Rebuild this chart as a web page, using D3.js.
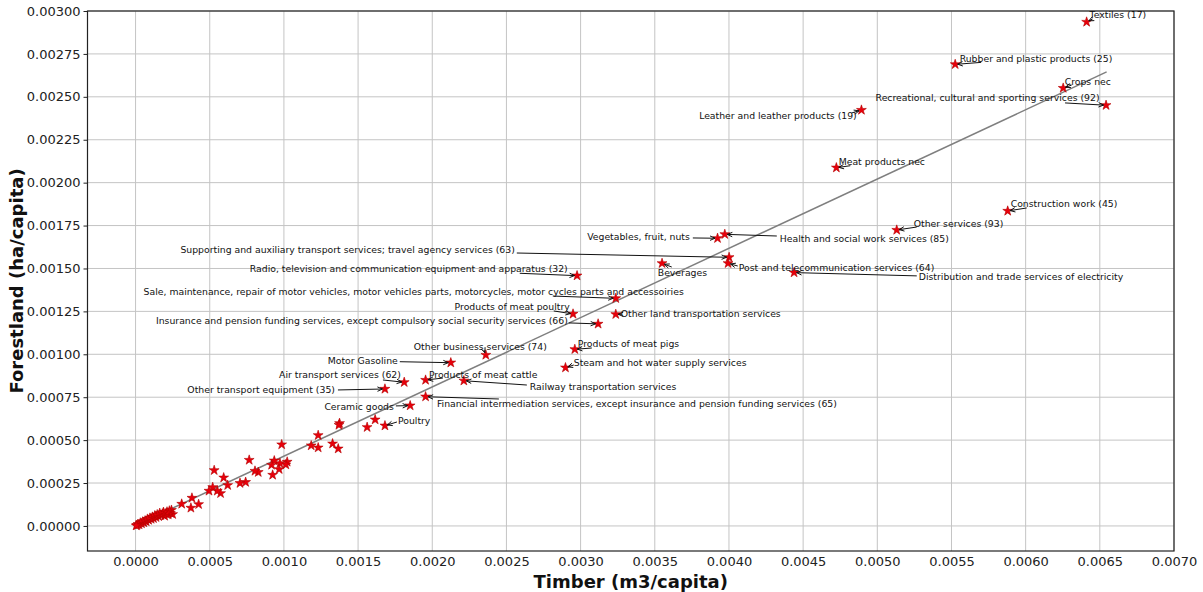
<!DOCTYPE html>
<html>
<head>
<meta charset="utf-8">
<script src="https://cdn.jsdelivr.net/npm/d3@7"></script>
<style>
  body { margin: 0; background: #fff; }
  svg { display: block; }
  text { font-family: "DejaVu Sans", sans-serif; }
</style>
</head>
<body>
<svg id="chart" width="1203" height="592"></svg>
<script>
// Named sectors (per-capita footprints)
const sectorNames = [
  "Textiles (17)",
  "Rubber and plastic products (25)",
  "Crops nec",
  "Recreational, cultural and sporting services (92)",
  "Leather and leather products (19)",
  "Meat products nec",
  "Construction work (45)",
  "Other services (93)",
  "Vegetables, fruit, nuts",
  "Health and social work services (85)",
  "Supporting and auxiliary transport services; travel agency services (63)",
  "Post and telecommunication services (64)",
  "Beverages",
  "Distribution and trade services of electricity",
  "Radio, television and communication equipment and apparatus (32)",
  "Sale, maintenance, repair of motor vehicles, motor vehicles parts, motorcycles, motor cycles parts and accessoiries",
  "Products of meat poultry",
  "Other land transportation services",
  "Insurance and pension funding services, except compulsory social security services (66)",
  "Other business services (74)",
  "Products of meat pigs",
  "Motor Gasoline",
  "Steam and hot water supply services",
  "Air transport services (62)",
  "Products of meat cattle",
  "Railway transportation services",
  "Other transport equipment (35)",
  "Financial intermediation services, except insurance and pension funding services (65)",
  "Ceramic goods",
  "Poultry"
];
const sectorTimber = [
  0.006411, 0.005525, 0.006253, 0.006542, 0.004893, 0.004724, 0.005879, 0.005131,
  0.003923, 0.003972, 0.004001, 0.003994, 0.003549, 0.004439, 0.002976, 0.003237,
  0.002949, 0.003237, 0.003118, 0.002361, 0.002961, 0.002125, 0.002898, 0.001811,
  0.001955, 0.002213, 0.001681, 0.001955, 0.001851, 0.001681
];
const sectorForest = [
  0.002936, 0.002689, 0.002551, 0.002451, 0.002423, 0.002087, 0.001835, 0.001724,
  0.001676, 0.001699, 0.001565, 0.001530, 0.001530, 0.001476, 0.001458, 0.001326,
  0.001235, 0.001233, 0.001177, 0.000996, 0.001029, 0.000951, 0.000922, 0.000837,
  0.000850, 0.000846, 0.000798, 0.000753, 0.000701, 0.000584
];

// Remaining (unlabelled) sectors
const otherTimber = [
  0.001615, 0.001561, 0.001375, 0.001371, 0.001366, 0.001328, 0.001231, 0.001231,
  0.001184, 0.000985, 0.001022, 0.001013, 0.000973, 0.000968, 0.000935, 0.000924,
  0.000917, 0.000827, 0.000805, 0.000766, 0.000742, 0.000704, 0.000621, 0.000594,
  0.000573, 0.000551, 0.000530, 0.000520, 0.000495, 0.000425, 0.000380, 0.000373,
  0.000311,
  0.000250, 0.000242, 0.000235, 0.000228, 0.000220, 0.000212, 0.000205, 0.000196,
  0.000188, 0.000180, 0.000171, 0.000163, 0.000155, 0.000146, 0.000138, 0.000130,
  0.000121, 0.000113, 0.000105, 0.000097, 0.000088, 0.000080, 0.000072, 0.000064,
  0.000056, 0.000048, 0.000040, 0.000032, 0.000024, 0.000016, 0.000009, 0.000004
];
const otherForest = [
  0.000619, 0.000575, 0.000598, 0.000588, 0.000450, 0.000479, 0.000528, 0.000456,
  0.000468, 0.000474, 0.000373, 0.000357, 0.000365, 0.000330, 0.000380, 0.000297,
  0.000355, 0.000313, 0.000320, 0.000384, 0.000255, 0.000249, 0.000237, 0.000281,
  0.000190, 0.000204, 0.000324, 0.000225, 0.000204, 0.000126, 0.000163, 0.000105,
  0.000128,
  0.000068, 0.000092, 0.000075, 0.000088, 0.000066, 0.000082, 0.000072, 0.000058,
  0.000080, 0.000070, 0.000062, 0.000074, 0.000056, 0.000066, 0.000050, 0.000060,
  0.000044, 0.000052, 0.000040, 0.000046, 0.000034, 0.000040, 0.000026, 0.000030,
  0.000020, 0.000024, 0.000014, 0.000018, 0.000008, 0.000010, 0.000004, 0.000002
];

// Least-squares fit line end points
const fitTimber = [0.000000, 0.006546];
const fitForest = [0.000003, 0.002645];

// Axis ticks
const xTickValues = [0, 0.0005, 0.001, 0.0015, 0.002, 0.0025, 0.003, 0.0035, 0.004, 0.0045, 0.005, 0.0055, 0.006, 0.0065, 0.007];
const xTickLabels = ["0.0000", "0.0005", "0.0010", "0.0015", "0.0020", "0.0025", "0.0030", "0.0035", "0.0040", "0.0045", "0.0050", "0.0055", "0.0060", "0.0065", "0.0070"];
const yTickValues = [0, 0.00025, 0.0005, 0.00075, 0.001, 0.00125, 0.0015, 0.00175, 0.002, 0.00225, 0.0025, 0.00275, 0.003];
const yTickLabels = ["0.00000", "0.00025", "0.00050", "0.00075", "0.00100", "0.00125", "0.00150", "0.00175", "0.00200", "0.00225", "0.00250", "0.00275", "0.00300"];

// Callout placement in pixels relative to each named sector's marker:
// text anchor offset (tx, ty), text alignment, arrow tail offset (ax, ay)
const calloutLayout = [
  { tx: 3, ty: -7, align: "start", ax: 6, ay: -3 },
  { tx: 4.5, ty: -6.3, align: "start", ax: 26, ay: -2 },
  { tx: 1.5, ty: -7, align: "start", ax: 8.5, ay: -3 },
  { tx: -6.5, ty: -7.3, align: "end", ax: -41, ay: -2.3 },
  { tx: -4.7, ty: 5, align: "end", ax: -10, ay: 3 },
  { tx: 2.3, ty: -6.7, align: "start", ax: 14, ay: -2 },
  { tx: 3, ty: -7, align: "start", ax: 19, ay: -3 },
  { tx: 17, ty: -7, align: "start", ax: 20, ay: -3 },
  { tx: -27.7, ty: -1.3, align: "end", ax: -24.7, ay: -0.3 },
  { tx: 55, ty: 3.7, align: "start", ax: 52, ay: 1.7 },
  { tx: -214.3, ty: -8.3, align: "end", ax: -212.3, ay: -4.3 },
  { tx: 10.7, ty: 3.7, align: "start", ax: 9.7, ay: 2.7 },
  { tx: -4.3, ty: 8.7, align: "start", ax: 9.7, ay: 3.7 },
  { tx: 124.7, ty: 4.3, align: "start", ax: 122.7, ay: 3.3 },
  { tx: -9.3, ty: -6.7, align: "end", ax: -57.3, ay: -2.4 },
  { tx: 68, ty: -7.3, align: "end", ax: -63, ay: -2.3 },
  { tx: -3.3, ty: -7, align: "end", ax: -19.3, ay: -3 },
  { tx: 5, ty: -0.3, align: "start", ax: 6, ay: 0 },
  { tx: -30.3, ty: -3, align: "end", ax: -29.3, ay: -1 },
  { tx: 61, ty: -8, align: "end", ax: -2, ay: -5 },
  { tx: 3, ty: -6.3, align: "start", ax: 17, ay: -1.3 },
  { tx: -53, ty: -2.7, align: "end", ax: -51, ay: -1 },
  { tx: 8.3, ty: -4.7, align: "start", ax: 8.3, ay: -2.7 },
  { tx: -3.3, ty: -7.3, align: "end", ax: -21.3, ay: -2.3 },
  { tx: 3.3, ty: -6, align: "start", ax: 17.3, ay: -2 },
  { tx: 66, ty: 5.3, align: "start", ax: 63, ay: 4.3 },
  { tx: -50, ty: 1, align: "end", ax: -47, ay: 1 },
  { tx: 11.3, ty: 7.3, align: "start", ax: 73.3, ay: 2.3 },
  { tx: -16.3, ty: 1.3, align: "end", ax: -14.3, ay: 0.3 },
  { tx: 13, ty: -4.7, align: "start", ax: 12, ay: -3.7 }
];

const svg = d3.select("#chart");
const plot = { left: 87.5, right: 1174, top: 11, bottom: 551 };

const x = d3.scaleLinear().domain([-0.000324, 0.0070]).range([plot.left, plot.right]);
const y = d3.scaleLinear().domain([-0.000146, 0.0030]).range([plot.bottom, plot.top]);

// Grid
const grid = svg.append("g");
grid.selectAll("line.gx").data(xTickValues).join("line")
  .attr("x1", d => x(d)).attr("x2", d => x(d))
  .attr("y1", plot.top).attr("y2", plot.bottom)
  .attr("stroke", "#c4c4c4").attr("stroke-width", 1);
grid.selectAll("line.gy").data(yTickValues).join("line")
  .attr("x1", plot.left).attr("x2", plot.right)
  .attr("y1", d => y(d)).attr("y2", d => y(d))
  .attr("stroke", "#c4c4c4").attr("stroke-width", 1);

// Axes
const xAxis = d3.axisBottom(x).tickValues(xTickValues)
  .tickFormat((d, i) => xTickLabels[i]).tickSize(0).tickSizeOuter(0).tickPadding(6);
const yAxis = d3.axisLeft(y).tickValues(yTickValues)
  .tickFormat((d, i) => yTickLabels[i]).tickSize(4).tickSizeOuter(0).tickPadding(3);

const gx = svg.append("g").attr("transform", `translate(0,${plot.bottom})`).call(xAxis);
const gy = svg.append("g").attr("transform", `translate(${plot.left},0)`).call(yAxis);
[gx, gy].forEach(g => {
  g.select(".domain").remove();
  g.selectAll("line").attr("stroke", "#222");
  g.selectAll("text").attr("font-size", 13).attr("fill", "#222")
    .attr("font-family", "'DejaVu Sans', sans-serif");
});

// Plot frame
svg.append("rect")
  .attr("x", plot.left).attr("y", plot.top)
  .attr("width", plot.right - plot.left).attr("height", plot.bottom - plot.top)
  .attr("fill", "none").attr("stroke", "#222").attr("stroke-width", 1.2);

// Fit line
svg.append("line")
  .attr("x1", x(fitTimber[0])).attr("y1", y(fitForest[0]))
  .attr("x2", x(fitTimber[1])).attr("y2", y(fitForest[1]))
  .attr("stroke", "#7f7f7f").attr("stroke-width", 1.5);

// Markers
const star = d3.symbol().type(d3.symbolStar).size(30);
const allPoints = otherTimber.map((t, i) => ({ t, f: otherForest[i] }))
  .concat(sectorTimber.map((t, i) => ({ t, f: sectorForest[i] })));
svg.append("g").selectAll("path").data(allPoints).join("path")
  .attr("d", star)
  .attr("transform", d => `translate(${x(d.t)},${y(d.f)})`)
  .attr("fill", "#e8000b").attr("stroke", "#b40000").attr("stroke-width", 0.6);

// Callouts with arrows
const callouts = svg.append("g");
sectorNames.forEach((name, i) => {
  const sx = x(sectorTimber[i]), sy = y(sectorForest[i]);
  const L = calloutLayout[i];
  const x0 = sx + L.ax, y0 = sy + L.ay;
  const dx = sx - x0, dy = sy - y0;
  const len = Math.hypot(dx, dy) || 1;
  const ux = dx / len, uy = dy / len;
  const shrink = 2.5;
  const tipX = sx - ux * shrink, tipY = sy - uy * shrink;
  const hl = 5, hw = 2.2;
  const bx = tipX - ux * hl, by = tipY - uy * hl;
  const px = -uy, py = ux;
  if (len > 4) {
    callouts.append("path")
      .attr("d", `M${x0},${y0}L${tipX},${tipY}M${bx + px * hw},${by + py * hw}L${tipX},${tipY}L${bx - px * hw},${by - py * hw}`)
      .attr("fill", "none").attr("stroke", "#111").attr("stroke-width", 1);
  }
  callouts.append("text")
    .attr("x", sx + L.tx).attr("y", sy + L.ty)
    .attr("text-anchor", L.align).attr("dominant-baseline", "central")
    .attr("font-size", 9.3).attr("fill", "#111")
    .text(name);
});

// Axis titles
svg.append("text")
  .attr("x", (plot.left + plot.right) / 2).attr("y", 581)
  .attr("text-anchor", "middle").attr("dominant-baseline", "central")
  .attr("font-size", 18).attr("font-weight", "bold").attr("fill", "#111")
  .text("Timber (m3/capita)");
svg.append("text")
  .attr("transform", `translate(16,${(plot.top + plot.bottom) / 2}) rotate(-90)`)
  .attr("text-anchor", "middle").attr("dominant-baseline", "central")
  .attr("font-size", 18).attr("font-weight", "bold").attr("fill", "#111")
  .text("Forestland (ha/capita)");
</script>
</body>
</html>
